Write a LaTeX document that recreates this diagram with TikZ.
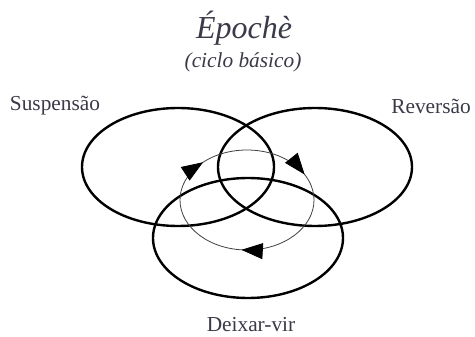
\documentclass[tikz,border=0pt]{standalone}
\usepackage{fontspec}
\setmainfont{Liberation Serif}
\usetikzlibrary{shapes.geometric,arrows.meta,decorations.markings}
\definecolor{txt}{HTML}{3A3A48}
\tikzset{
  bigell/.style={ellipse, draw=black, line width=1.8pt, inner sep=0pt, outer sep=0pt},
  lbl/.style={text=txt, font=\fontsize{16}{19}\selectfont, inner sep=0pt},
  tri/.style={Triangle[length=16pt,width=12pt,color=black]},
  cyc/.style={draw=black!75, line width=0.6pt, postaction={decorate},
    decoration={markings,
      mark=at position 0.075 with {\arrowreversed{Triangle[length=16pt,width=12pt,color=black]}},
      mark=at position 0.375 with {\arrowreversed{Triangle[length=16pt,width=12pt,color=black]}},
      mark=at position 0.735 with {\arrowreversed{Triangle[length=16pt,width=12pt,color=black]}}}}
}
\begin{document}
\begin{tikzpicture}[x=0.75pt,y=0.75pt]
\useasboundingbox (0,0) rectangle (475,336);
\node[bigell, minimum width=144pt, minimum height=88.5pt] (susp) at (178,169) {};
\node[bigell, minimum width=145.5pt, minimum height=88.5pt] (rev) at (315,169) {};
\node[bigell, minimum width=142.5pt, minimum height=90pt] (deix) at (248,98) {};
\coordinate (cc) at (247,136);
\draw[cyc] (cc) ellipse [x radius=67, y radius=50];
\node[text=txt, font=\fontsize{24}{28}\selectfont\itshape, inner sep=0pt] (title) at (244,308) {Épochè};
\node[lbl, font=\fontsize{16}{19}\selectfont\itshape] (sub) at (243,274) {(ciclo básico)};
\node[lbl] (ls) at (55,230) {Suspensão};
\node[lbl] (lr) at (431,230) {Reversão};
\node[lbl] (ld) at (251,11) {Deixar-vir};
\end{tikzpicture}
\end{document}
